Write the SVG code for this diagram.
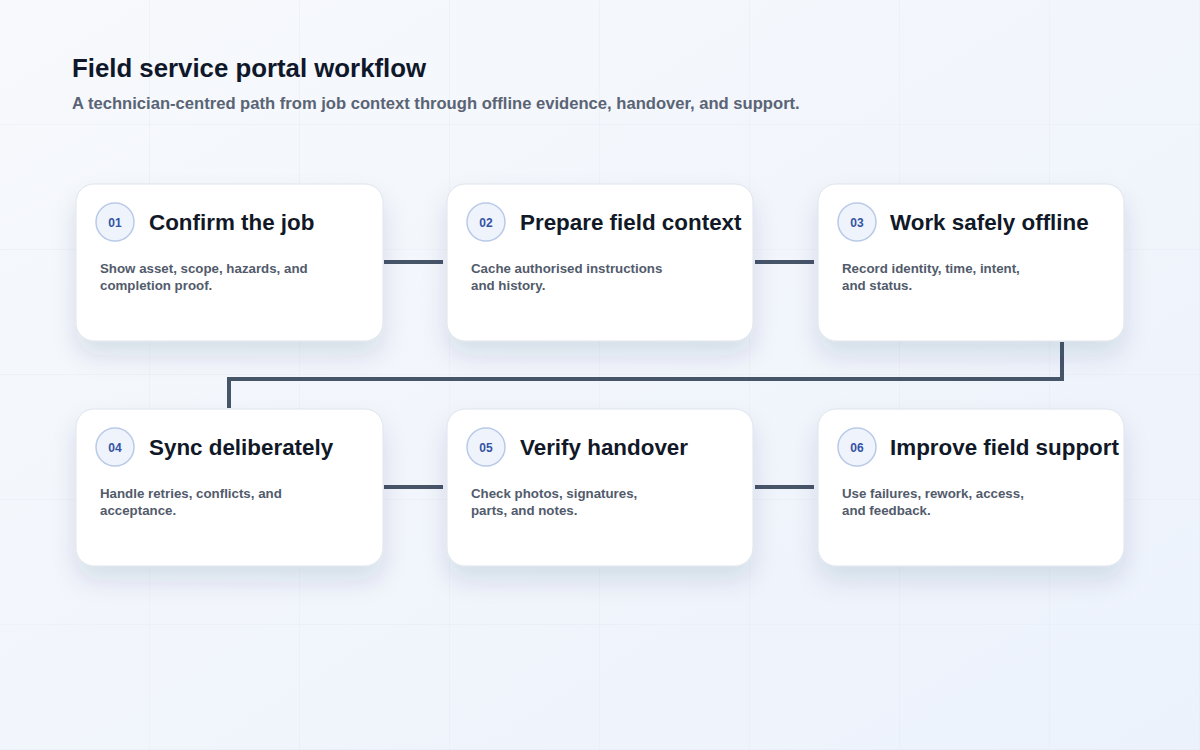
<svg xmlns="http://www.w3.org/2000/svg" width="1200" height="750" viewBox="0 0 1200 750">
  <defs>
    <linearGradient id="bg" x1="0" y1="0" x2="1" y2="1">
      <stop offset="0" stop-color="#f7f9fc"/>
      <stop offset="1" stop-color="#ecf2fc"/>
    </linearGradient>
    <pattern id="grid" width="150" height="125" patternUnits="userSpaceOnUse">
      <path d="M150 0V125M0 125H150" fill="none" stroke="#e3e8f0" stroke-width="1" opacity="0.7"/>
    </pattern>
    <filter id="shadow" x="-20%" y="-20%" width="140%" height="170%">
      <feDropShadow dx="0" dy="14" stdDeviation="12" flood-color="#1e2a55" flood-opacity="0.12"/>
    </filter>
  </defs>
  <style>
    .card { fill: #ffffff; stroke: #dde3ec; stroke-width: 1; filter: url(#shadow); }
    .badge { fill: #eef3fc; stroke: #b9cae8; stroke-width: 1.5; }
    .num { font-family: "Liberation Sans", Arial, sans-serif; font-size: 12px; font-weight: 700; fill: #3553a3; text-anchor: middle; }
    .ttl { font-family: "Liberation Sans", Arial, sans-serif; font-size: 22.4px; font-weight: 700; fill: #111827; }
    .desc { font-family: "Liberation Sans", Arial, sans-serif; font-size: 13.3px; font-weight: 700; fill: #525b6b; }
    .conn { fill: none; stroke: #475569; stroke-width: 4; stroke-linejoin: miter; }
  </style>
  <rect width="1200" height="750" fill="url(#bg)"/>
  <rect width="1200" height="750" fill="url(#grid)"/>

  <g id="header">
    <text x="72" y="77" font-family="Liberation Sans, Arial, sans-serif" font-size="25.8" font-weight="700" fill="#0f172a">Field service portal workflow</text>
    <text x="72" y="109" font-family="Liberation Sans, Arial, sans-serif" font-size="16.6" font-weight="700" fill="#5a6475">A technician-centred path from job context through offline evidence, handover, and support.</text>
  </g>

  <g id="connectors">
    <path class="conn" d="M384 262H443"/>
    <path class="conn" d="M755 262H814"/>
    <path class="conn" d="M1062 342V379H229V408"/>
    <path class="conn" d="M384 487H443"/>
    <path class="conn" d="M755 487H814"/>
  </g>

  <g id="step01">
    <rect class="card" x="76" y="184" width="307" height="157" rx="18"/>
    <circle class="badge" cx="115" cy="222" r="19"/>
    <text class="num" x="115" y="226.5">01</text>
    <text class="ttl" x="149" y="229.5">Confirm the job</text>
    <text class="desc" x="100" y="273">Show asset, scope, hazards, and</text>
    <text class="desc" x="100" y="290">completion proof.</text>
  </g>

  <g id="step02">
    <rect class="card" x="447" y="184" width="306" height="157" rx="18"/>
    <circle class="badge" cx="486" cy="222" r="19"/>
    <text class="num" x="486" y="226.5">02</text>
    <text class="ttl" x="520" y="229.5">Prepare field context</text>
    <text class="desc" x="471" y="273">Cache authorised instructions</text>
    <text class="desc" x="471" y="290">and history.</text>
  </g>

  <g id="step03">
    <rect class="card" x="818" y="184" width="306" height="157" rx="18"/>
    <circle class="badge" cx="857" cy="222" r="19"/>
    <text class="num" x="857" y="226.5">03</text>
    <text class="ttl" x="890" y="229.5">Work safely offline</text>
    <text class="desc" x="842" y="273">Record identity, time, intent,</text>
    <text class="desc" x="842" y="290">and status.</text>
  </g>

  <g id="step04">
    <rect class="card" x="76" y="409" width="307" height="157" rx="18"/>
    <circle class="badge" cx="115" cy="447" r="19"/>
    <text class="num" x="115" y="451.5">04</text>
    <text class="ttl" x="149" y="454.5">Sync deliberately</text>
    <text class="desc" x="100" y="498">Handle retries, conflicts, and</text>
    <text class="desc" x="100" y="515">acceptance.</text>
  </g>

  <g id="step05">
    <rect class="card" x="447" y="409" width="306" height="157" rx="18"/>
    <circle class="badge" cx="486" cy="447" r="19"/>
    <text class="num" x="486" y="451.5">05</text>
    <text class="ttl" x="520" y="454.5">Verify handover</text>
    <text class="desc" x="471" y="498">Check photos, signatures,</text>
    <text class="desc" x="471" y="515">parts, and notes.</text>
  </g>

  <g id="step06">
    <rect class="card" x="818" y="409" width="306" height="157" rx="18"/>
    <circle class="badge" cx="857" cy="447" r="19"/>
    <text class="num" x="857" y="451.5">06</text>
    <text class="ttl" x="890" y="454.5">Improve field support</text>
    <text class="desc" x="842" y="498">Use failures, rework, access,</text>
    <text class="desc" x="842" y="515">and feedback.</text>
  </g>
</svg>
